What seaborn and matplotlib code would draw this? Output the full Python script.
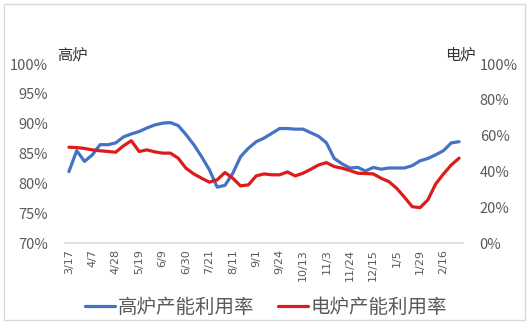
import matplotlib
matplotlib.use("Agg")
import matplotlib.pyplot as plt
import seaborn as sns
import pandas as pd
from matplotlib.patches import Rectangle
from matplotlib.ticker import FuncFormatter

dates = ["3/17", "3/24", "3/31", "4/7", "4/14", "4/21", "4/28", "5/5", "5/12", "5/19",
         "5/26", "6/2", "6/9", "6/16", "6/23", "6/30", "7/7", "7/14", "7/21", "7/28",
         "8/4", "8/11", "8/18", "8/25", "9/1", "9/8", "9/15", "9/24", "9/29", "10/8",
         "10/13", "10/20", "10/27", "11/3", "11/10", "11/17", "11/24", "12/1", "12/8", "12/15",
         "12/22", "12/29", "1/5", "1/12", "1/19", "1/29", "2/2", "2/9", "2/16", "2/23", "3/2"]

blast_furnace = [82.0, 85.5, 83.7, 84.8, 86.5, 86.5, 86.8, 87.8, 88.3, 88.7,
                 89.3, 89.8, 90.1, 90.2, 89.7, 88.2, 86.5, 84.5, 82.3, 79.4,
                 79.7, 81.7, 84.5, 85.9, 87.0, 87.6, 88.4, 89.2, 89.2, 89.1,
                 89.1, 88.5, 87.9, 86.8, 84.2, 83.3, 82.6, 82.7, 82.1, 82.7,
                 82.4, 82.6, 82.6, 82.6, 83.0, 83.8, 84.2, 84.8, 85.5, 86.8, 87.0]

electric_furnace = [53.6, 53.4, 52.9, 52.1, 51.6, 51.2, 50.8, 54.4, 57.2, 51.2,
                    52.1, 51.0, 50.3, 50.3, 47.5, 41.9, 38.7, 36.3, 34.1, 35.4,
                    39.5, 36.3, 32.0, 32.6, 37.6, 38.7, 38.2, 38.2, 39.8, 37.6,
                    39.1, 41.3, 43.7, 45.0, 42.8, 41.9, 40.6, 39.1, 38.9, 38.7,
                    36.3, 34.4, 30.7, 25.7, 20.4, 19.9, 24.2, 33.1, 38.7, 43.7, 47.5]

left_ticks = [70, 75, 80, 85, 90, 95, 100]
right_ticks = [0, 20, 40, 60, 80, 100]
label_step = 3

sns.set_style("white")
plt.rcParams["font.family"] = ["Noto Sans CJK SC", "DejaVu Sans"]

BLUE = "#4472C4"
RED = "#DC1C1C"
GRAY = "#595959"

df = pd.DataFrame({"idx": range(len(dates)), "bf": blast_furnace, "ef": electric_furnace})

fig = plt.figure(figsize=(5.32, 3.28), dpi=100)
ax = fig.add_axes([65 / 532, 1 - 243.3 / 328, 398 / 532, 179.3 / 328])
ax2 = ax.twinx()

sns.lineplot(data=df, x="idx", y="bf", ax=ax, color=BLUE, linewidth=2.3, label="高炉产能利用率", legend=False)
sns.lineplot(data=df, x="idx", y="ef", ax=ax2, color=RED, linewidth=2.3, label="电炉产能利用率", legend=False)
for a in (ax, ax2):
    for ln in a.get_lines():
        ln.set_solid_joinstyle("round")
        ln.set_solid_capstyle("round")

ax.set_xlim(-0.5, len(dates) - 0.5)
ax.set_ylim(70, 100)
ax2.set_ylim(0, 100)
ax.set_yticks(left_ticks)
ax2.set_yticks(right_ticks)
ax.yaxis.set_major_formatter(FuncFormatter(lambda v, p: f"{int(v)}%"))
ax2.yaxis.set_major_formatter(FuncFormatter(lambda v, p: f"{int(v)}%"))
tick_pos = list(range(0, len(dates), label_step))
ax.set_xticks(tick_pos)
ax.set_xticklabels([dates[i] for i in tick_pos], rotation=90, fontsize=8, color=GRAY,
                   family=["DejaVu Sans"])
ax.set_xlabel("")
ax.set_ylabel("")
ax2.set_ylabel("")

for a in (ax, ax2):
    for s in ["top", "left", "right", "bottom"]:
        a.spines[s].set_visible(False)
    a.grid(False)
ax.spines["bottom"].set_visible(True)
ax.spines["bottom"].set_color("#d9d9d9")
ax.spines["bottom"].set_linewidth(1.2)

ax.tick_params(axis="y", length=0, pad=12, labelsize=10.5, labelcolor=GRAY)
ax2.tick_params(axis="y", length=0, pad=12, labelsize=10.5, labelcolor=GRAY)
ax.tick_params(axis="x", length=0, pad=4)

fig.text(57 / 532, 1 - 55 / 328, "高炉", fontsize=11, color="#333333", va="center", ha="left")
fig.text(445 / 532, 1 - 55 / 328, "电炉", fontsize=11, color="#333333", va="center", ha="left")

h1, l1 = ax.get_legend_handles_labels()
h2, l2 = ax2.get_legend_handles_labels()
fig.legend(h1 + h2, l1 + l2, loc="center", bbox_to_anchor=(0.5, 1 - 307 / 328), ncol=2,
           frameon=False, fontsize=14, handlelength=1.55, handletextpad=0.15,
           columnspacing=1.2, labelcolor=GRAY)

fig.add_artist(Rectangle((4 / 532, 1 - 320 / 328), 521 / 532, 316 / 328,
                         transform=fig.transFigure, fill=False, edgecolor="#d9d9d9", linewidth=1))

fig.savefig("out.png", dpi=100)
